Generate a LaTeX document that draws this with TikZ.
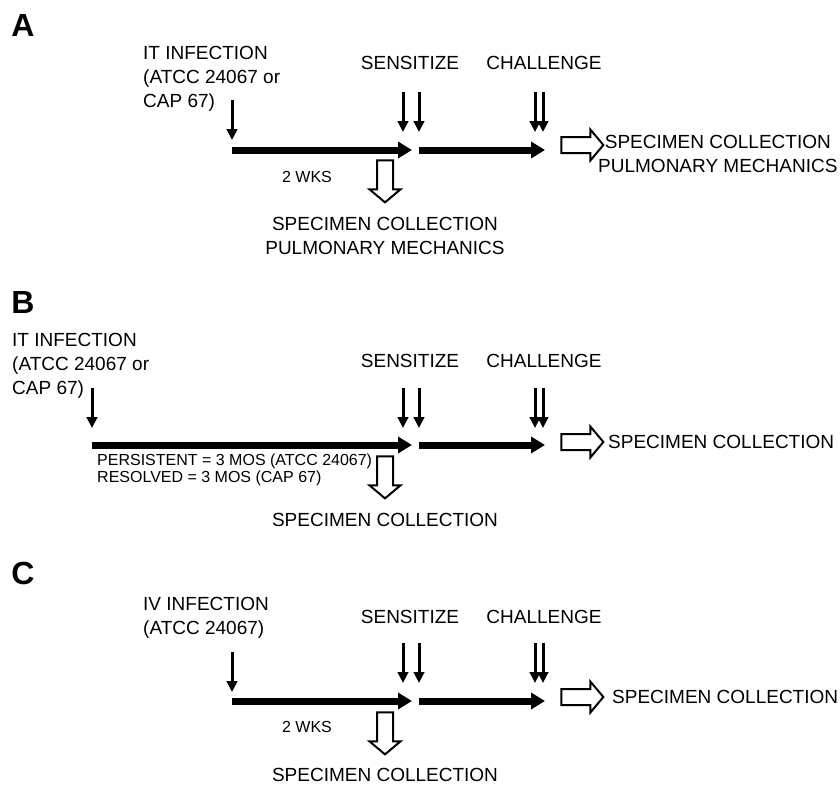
\documentclass[tikz,border=0pt]{standalone}
\usepackage{fontspec}
\setmainfont{Liberation Sans}
\usetikzlibrary{arrows.meta,shapes.arrows}

\tikzset{
	lbl/.style={font=\fontsize{19}{24}\selectfont, inner sep=0pt},
	smalllbl/.style={font=\fontsize{16}{17}\selectfont, inner sep=0pt},
	panel/.style={font=\fontsize{32}{32}\selectfont\bfseries, inner sep=0pt},
	thinarr/.style={-{Triangle[length=11pt,width=10.5pt]}, line width=3pt},
	thickarr/.style={-{Triangle[length=14pt,width=16pt]}, line width=7pt},
	hollow/.style={single arrow, draw, line width=2pt, inner sep=7pt, minimum height=42pt, single arrow head extend=7.5pt, single arrow tip angle=100}
}

\begin{document}
\begin{tikzpicture}[x=1pt,y=-1pt]
	\useasboundingbox (0,0) rectangle (840,784);

	% A
	\node[panel] (lblA) at (23,25) {A};
	\node[lbl, anchor=west, align=left] (infA) at (143,79) {IT INFECTION\\(ATCC 24067 or\\CAP 67)};
	\node[lbl] (senA) at (410,63) {SENSITIZE};
	\node[lbl] (chaA) at (544,63) {CHALLENGE};
	\coordinate (a0) at (232,150);
	\coordinate (a1) at (412,150);
	\coordinate (a2) at (419,150);
	\coordinate (a3) at (545,150);
	\coordinate (ia) at (232,100);
	\coordinate (sa1) at (403,92);
	\coordinate (sa2) at (419,92);
	\coordinate (ca1) at (535,92);
	\coordinate (ca2) at (543,92);
	\draw[thickarr] (a0) -- (a1);
	\draw[thickarr] (a2) -- (a3);
	\draw[thinarr] (ia) -- ++(0,40);
	\draw[thinarr] (sa1) -- ++(0,40);
	\draw[thinarr] (sa2) -- ++(0,40);
	\draw[thinarr] (ca1) -- ++(0,40);
	\draw[thinarr] (ca2) -- ++(0,40);
	\node[smalllbl] (wksA) at (307,177) {2 WKS};
	\node[hollow, shape border rotate=270] (dnA) at (385,178) {};
	\node[lbl, align=center] (colA) at (385,236) {SPECIMEN COLLECTION\\PULMONARY MECHANICS};
	\node[hollow] (rtA) at (579,145) {};
	\node[lbl, anchor=west, align=center] (colA2) at (598,154) {SPECIMEN COLLECTION\\PULMONARY MECHANICS};

	% B
	\node[panel] (lblB) at (23,302) {B};
	\node[lbl, anchor=west, align=left] (infB) at (12,366) {IT INFECTION\\(ATCC 24067 or\\CAP 67)};
	\node[lbl] (senB) at (410,361) {SENSITIZE};
	\node[lbl] (chaB) at (544,361) {CHALLENGE};
	\coordinate (b0) at (92,445);
	\coordinate (b1) at (412,445);
	\coordinate (b2) at (419,445);
	\coordinate (b3) at (545,445);
	\coordinate (ib) at (92,388);
	\coordinate (sb1) at (403,388);
	\coordinate (sb2) at (419,388);
	\coordinate (cb1) at (535,388);
	\coordinate (cb2) at (543,388);
	\draw[thickarr] (b0) -- (b1);
	\draw[thickarr] (b2) -- (b3);
	\draw[thinarr] (ib) -- ++(0,40);
	\draw[thinarr] (sb1) -- ++(0,40);
	\draw[thinarr] (sb2) -- ++(0,40);
	\draw[thinarr] (cb1) -- ++(0,40);
	\draw[thinarr] (cb2) -- ++(0,40);
	\node[smalllbl, anchor=west, align=left] (durB) at (97,470) {PERSISTENT = 3 MOS (ATCC 24067)\\RESOLVED = 3 MOS (CAP 67)};
	\node[hollow, shape border rotate=270] (dnB) at (385,474) {};
	\node[lbl] (colB) at (385,520) {SPECIMEN COLLECTION};
	\node[hollow] (rtB) at (579,442) {};
	\node[lbl, anchor=west] (colB2) at (608,442) {SPECIMEN COLLECTION};

	% C
	\node[panel] (lblC) at (23,573) {C};
	\node[lbl, anchor=west, align=left] (infC) at (143,618) {IV INFECTION\\(ATCC 24067)};
	\node[lbl] (senC) at (410,617) {SENSITIZE};
	\node[lbl] (chaC) at (544,617) {CHALLENGE};
	\coordinate (c0) at (232,701);
	\coordinate (c1) at (412,701);
	\coordinate (c2) at (419,701);
	\coordinate (c3) at (545,701);
	\coordinate (ic) at (232,652);
	\coordinate (sc1) at (403,643);
	\coordinate (sc2) at (419,643);
	\coordinate (cc1) at (535,643);
	\coordinate (cc2) at (543,643);
	\draw[thickarr] (c0) -- (c1);
	\draw[thickarr] (c2) -- (c3);
	\draw[thinarr] (ic) -- ++(0,40);
	\draw[thinarr] (sc1) -- ++(0,40);
	\draw[thinarr] (sc2) -- ++(0,40);
	\draw[thinarr] (cc1) -- ++(0,40);
	\draw[thinarr] (cc2) -- ++(0,40);
	\node[smalllbl] (wksC) at (307,727) {2 WKS};
	\node[hollow, shape border rotate=270] (dnC) at (385,730) {};
	\node[lbl] (colC) at (385,775) {SPECIMEN COLLECTION};
	\node[hollow] (rtC) at (579,697) {};
	\node[lbl, anchor=west] (colC2) at (612,697) {SPECIMEN COLLECTION};
\end{tikzpicture}
\end{document}
